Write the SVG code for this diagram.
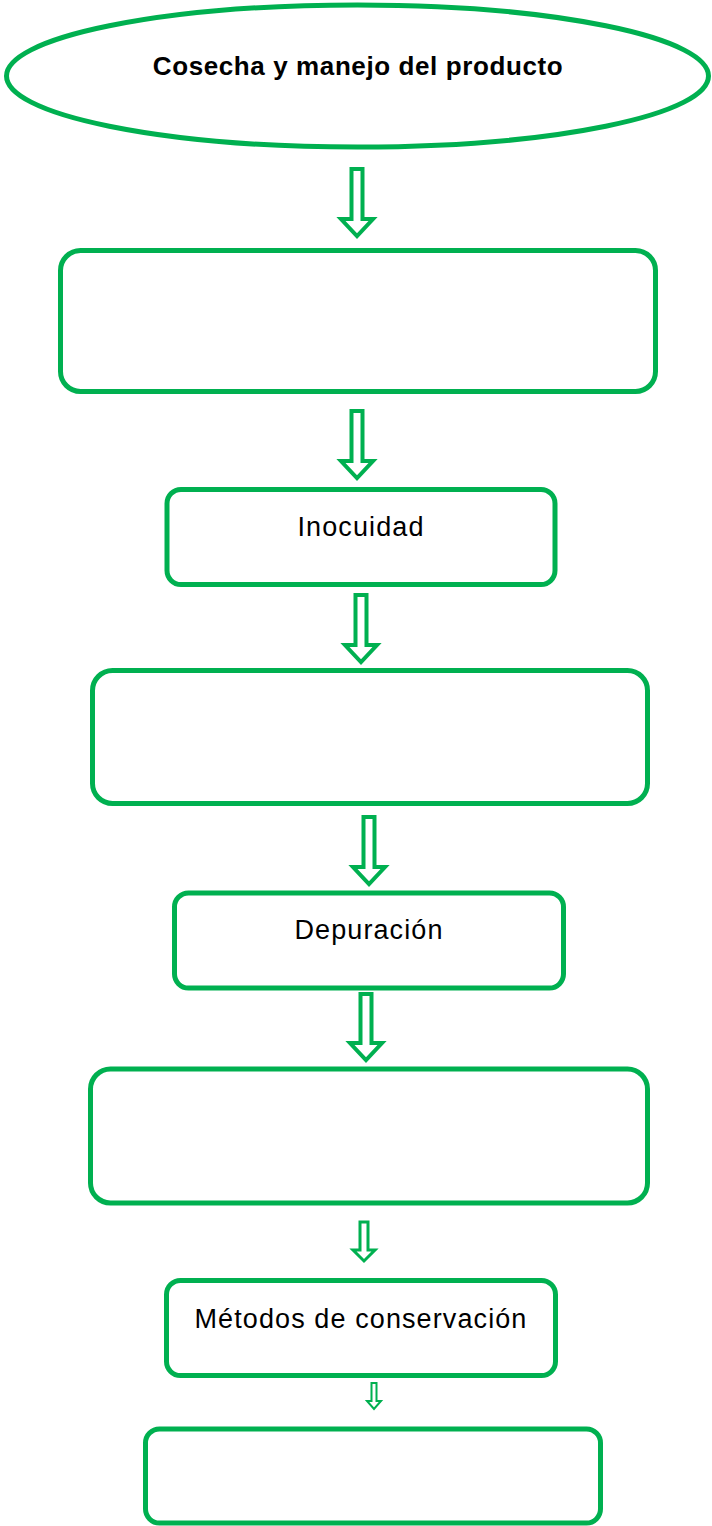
<svg xmlns="http://www.w3.org/2000/svg" width="712" height="1526" viewBox="0 0 712 1526">
<style>
.node{fill:#fff;stroke:#00B050;stroke-width:5}
.arr{fill:#fff;stroke:#00B050;stroke-width:4;stroke-linejoin:miter}
.t{font-family:"Liberation Sans",Arial,sans-serif;font-size:27px;fill:#000;text-anchor:middle;letter-spacing:1.1px}
.tb{font-family:"Liberation Sans",Arial,sans-serif;font-size:26px;font-weight:bold;fill:#000;text-anchor:middle;letter-spacing:0.6px}
</style>
<rect width="712" height="1526" fill="#fff"/>
<g id="connectors">
<polygon class="arr" points="351.5,169 362.5,169 362.5,219 373,219 357,236 341,219 351.5,219"/>
<polygon class="arr" points="351.5,411 362.5,411 362.5,461 373,461 357,478 341,461 351.5,461"/>
<polygon class="arr" points="355.5,595 366.5,595 366.5,645 377,645 361,662 345,645 355.5,645"/>
<polygon class="arr" points="363.5,817 374.5,817 374.5,867 385,867 369,884 353,867 363.5,867"/>
<polygon class="arr" points="360.5,994 371.5,994 371.5,1043 382,1043 366,1060 350,1043 360.5,1043"/>
<polygon class="arr" style="stroke-width:3" points="360,1222 368,1222 368,1250 375,1250 364,1261 353,1250 360,1250"/>
<polygon class="arr" style="stroke-width:2" points="371.5,1383 376.5,1383 376.5,1401 381,1401 374,1409 367,1401 371.5,1401"/>
</g>
<g id="n0">
<ellipse class="node" cx="357.5" cy="76" rx="351" ry="71"/>
<text class="tb" x="358" y="75">Cosecha y manejo del producto</text>
</g>
<g id="n1"><rect class="node" x="60.5" y="250.5" width="595" height="141" rx="20"/></g>
<g id="n2"><rect class="node" x="167" y="489.5" width="388" height="95" rx="14"/>
<text class="t" x="361" y="536">Inocuidad</text></g>
<g id="n3"><rect class="node" x="92.5" y="670.5" width="555" height="133" rx="20"/></g>
<g id="n4"><rect class="node" x="174.5" y="893" width="389" height="95" rx="14"/>
<text class="t" x="369" y="939">Depuración</text></g>
<g id="n5"><rect class="node" x="90.5" y="1069" width="557" height="134" rx="20"/></g>
<g id="n6"><rect class="node" x="166.5" y="1280.5" width="389" height="95" rx="14"/>
<text class="t" x="361" y="1328">Métodos de conservación</text></g>
<g id="n7"><rect class="node" x="145.5" y="1429" width="455" height="94" rx="14"/></g>
</svg>
